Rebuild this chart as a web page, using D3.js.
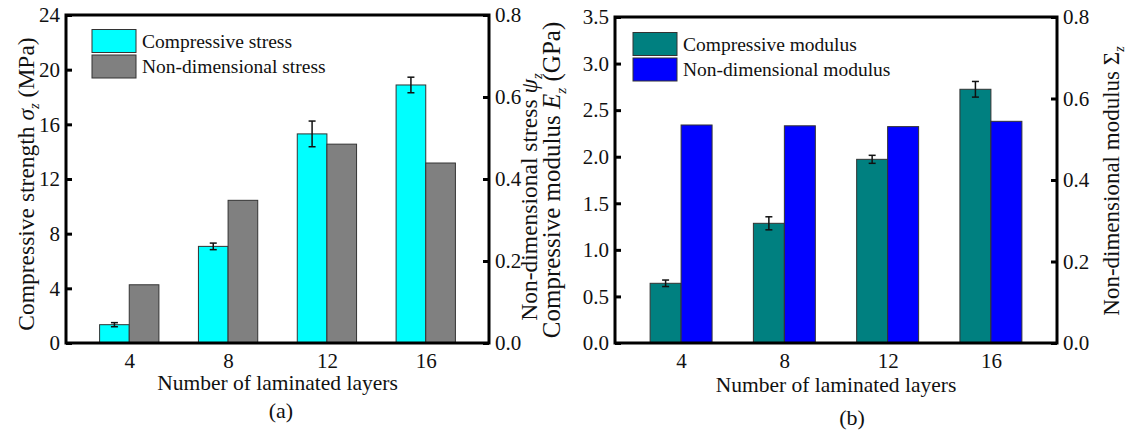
<!DOCTYPE html>
<html>
<head>
<meta charset="utf-8">
<script src="https://cdn.jsdelivr.net/npm/d3@7"></script>
<style>
  body { margin: 0; background: #fff; }
  svg text { font-family: "Liberation Serif", "Times New Roman", Tinos, "DejaVu Serif", serif; fill: #111; }
</style>
</head>
<body>
<div id="chart"></div>
<script>
// data
const layers = [4, 8, 12, 16];

const strength = [1.34, 7.07, 15.3, 18.88];       // MPa
const strengthErr = [0.15, 0.24, 0.94, 0.57];
const stressRatio = [0.142, 0.348, 0.485, 0.439];  // psi_z

const modulus = [0.641, 1.285, 1.972, 2.724];       // GPa
const modulusErr = [0.035, 0.07, 0.043, 0.084];
const modulusRatio = [0.535, 0.533, 0.531, 0.544];  // Sigma_z

const strengthTicks = [0, 4, 8, 12, 16, 20, 24];
const modulusTicks = [0, 0.5, 1.0, 1.5, 2.0, 2.5, 3.0, 3.5];
const ratioTicks = [0, 0.2, 0.4, 0.6, 0.8];

const width = 1131, height = 439;
const serif = '"Liberation Serif", "Times New Roman", Tinos, "DejaVu Serif", serif';

const svg = d3.select('#chart')
    .append('svg')
    .attr('width', width)
    .attr('height', height)
    .attr('font-family', serif);

function panel(cfg) {
    const g = svg.append('g');

    const x = d3.scalePoint()
        .domain(layers)
        .range([cfg.left, cfg.right])
        .padding(0.64);
    const bw = x.step() * 0.3;

    const yL = d3.scaleLinear().domain(cfg.leftDomain).range([cfg.bottom, cfg.top]);
    const yR = d3.scaleLinear().domain([0, 0.8]).range([cfg.bottom, cfg.top]);

    // bars, main series on the left of the tick, ratio on the right
    g.selectAll('.barA')
        .data(layers)
        .enter()
        .append('rect')
        .attr('x', d => x(d) - bw)
        .attr('y', (d, i) => yL(cfg.main[i]))
        .attr('width', bw)
        .attr('height', (d, i) => cfg.bottom - yL(cfg.main[i]))
        .attr('fill', cfg.colorA)
        .attr('stroke', '#333')
        .attr('stroke-width', 1);

    g.selectAll('.barB')
        .data(layers)
        .enter()
        .append('rect')
        .attr('x', d => x(d))
        .attr('y', (d, i) => yR(cfg.ratio[i]))
        .attr('width', bw)
        .attr('height', (d, i) => cfg.bottom - yR(cfg.ratio[i]))
        .attr('fill', cfg.colorB)
        .attr('stroke', '#333')
        .attr('stroke-width', 1);

    // error bars
    const eb = g.selectAll('.err')
        .data(layers)
        .enter()
        .append('g')
        .attr('stroke', '#111')
        .attr('stroke-width', 1.5);
    eb.append('line')
        .attr('x1', d => x(d) - bw / 2)
        .attr('x2', d => x(d) - bw / 2)
        .attr('y1', (d, i) => yL(cfg.main[i] - cfg.err[i]))
        .attr('y2', (d, i) => yL(cfg.main[i] + cfg.err[i]));
    [-1, 1].forEach(s => {
        eb.append('line')
            .attr('x1', d => x(d) - bw / 2 - 3.5)
            .attr('x2', d => x(d) - bw / 2 + 3.5)
            .attr('y1', (d, i) => yL(cfg.main[i] + s * cfg.err[i]))
            .attr('y2', (d, i) => yL(cfg.main[i] + s * cfg.err[i]));
    });

    // axes, ticks pointing inward
    const axL = g.append('g')
        .attr('transform', 'translate(' + cfg.left + ',0)')
        .call(d3.axisLeft(yL).tickValues(cfg.leftTicks).tickFormat(cfg.leftFormat)
            .tickSize(-6).tickPadding(6));
    const axR = g.append('g')
        .attr('transform', 'translate(' + cfg.right + ',0)')
        .call(d3.axisRight(yR).tickValues(ratioTicks).tickFormat(d3.format('.1f'))
            .tickSize(-6).tickPadding(6));
    const axB = g.append('g')
        .attr('transform', 'translate(0,' + cfg.bottom + ')')
        .call(d3.axisBottom(x).tickSize(0).tickPadding(10));

    [axL, axR, axB].forEach(a => {
        a.attr('font-family', serif).attr('font-size', 21);
        a.select('.domain').remove();
        a.selectAll('line').attr('stroke', '#000').attr('stroke-width', 3);
        a.selectAll('text').attr('fill', '#111');
    });

    // frame
    g.append('rect')
        .attr('x', cfg.left)
        .attr('y', cfg.top)
        .attr('width', cfg.right - cfg.left)
        .attr('height', cfg.bottom - cfg.top)
        .attr('fill', 'none')
        .attr('stroke', '#000')
        .attr('stroke-width', 3);

    // legend
    const lg = g.append('g');
    cfg.legend.forEach((name, i) => {
        lg.append('rect')
            .attr('x', cfg.legX)
            .attr('y', cfg.legY + i * 25.5)
            .attr('width', 44)
            .attr('height', 23)
            .attr('fill', i === 0 ? cfg.colorA : cfg.colorB)
            .attr('stroke', '#333')
            .attr('stroke-width', 1);
        lg.append('text')
            .attr('x', cfg.legX + 50)
            .attr('y', cfg.legY + i * 25.5 + 18)
            .attr('font-size', 19.5)
            .text(name);
    });

    // axis titles
    const xt = (cfg.left + cfg.right) / 2;
    g.append('text')
        .attr('x', xt)
        .attr('y', cfg.bottom + cfg.xTitleDy)
        .attr('text-anchor', 'middle')
        .attr('font-size', 21.5)
        .text('Number of laminated layers');
    g.append('text')
        .attr('x', cfg.tagX)
        .attr('y', cfg.tagY)
        .attr('text-anchor', 'middle')
        .attr('font-size', 22)
        .text(cfg.tag);

    cfg.titles.forEach(t => {
        const tx = g.append('text')
            .attr('transform', 'translate(' + t.x + ',' + t.y + ') rotate(-90)')
            .attr('text-anchor', 'middle')
            .attr('font-size', t.size);
        tx.append('tspan').text(t.pre);
        tx.append('tspan').attr('font-style', t.symItalic ? 'italic' : 'normal').text(t.sym);
        tx.append('tspan').attr('font-style', 'italic').attr('font-size', t.size * 0.62)
            .attr('dy', t.size * 0.22).text('z');
        tx.append('tspan').attr('dy', -t.size * 0.22).text(t.post);
    });
}

panel({
    left: 66, right: 489, top: 15, bottom: 343,
    leftDomain: [0, 24], leftTicks: strengthTicks, leftFormat: d3.format('d'),
    main: strength, err: strengthErr, ratio: stressRatio,
    colorA: '#00ffff', colorB: '#808080',
    legend: ['Compressive stress', 'Non-dimensional stress'],
    legX: 92, legY: 29.5,
    xTitleDy: 47,
    tag: '(a)', tagX: 281, tagY: 418,
    titles: [
        { x: 33.5, y: 184, size: 23.5, pre: 'Compressive strength ', sym: 'σ', symItalic: true, post: ' (MPa)' },
        { x: 537, y: 197, size: 23.5, pre: 'Non-dimensional stress ', sym: 'ψ', symItalic: true, post: '' }
    ]
});

panel({
    left: 615, right: 1057, top: 17, bottom: 343,
    leftDomain: [0, 3.5], leftTicks: modulusTicks, leftFormat: d3.format('.1f'),
    main: modulus, err: modulusErr, ratio: modulusRatio,
    colorA: '#008080', colorB: '#0000ff',
    legend: ['Compressive modulus', 'Non-dimensional modulus'],
    legX: 633, legY: 32.5,
    xTitleDy: 49,
    tag: '(b)', tagX: 852, tagY: 425,
    titles: [
        { x: 560, y: 180, size: 25, pre: 'Compressive modulus ', sym: 'E', symItalic: true, post: ' (GPa)' },
        { x: 1119, y: 181, size: 23, pre: 'Non-dimensional modulus ', sym: 'Σ', symItalic: false, post: '' }
    ]
});
</script>
</body>
</html>
